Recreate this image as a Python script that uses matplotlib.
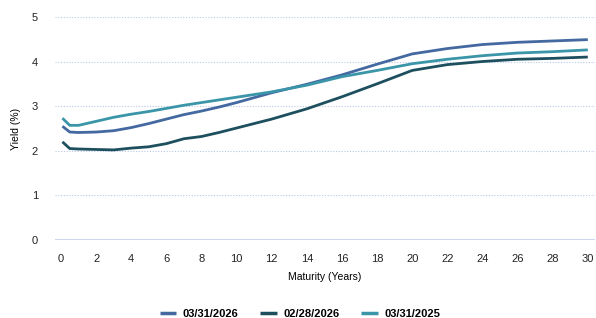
import matplotlib
matplotlib.use('Agg')
import matplotlib.pyplot as plt

plt.rcParams['font.family'] = ['Liberation Sans', 'DejaVu Sans']

maturity = [0.083, 0.5, 1, 2, 3, 4, 5, 6, 7, 8, 9, 10, 12, 14, 16, 18, 20, 22, 24, 26, 28, 30]
yield_mar26 = [2.55, 2.42, 2.41, 2.42, 2.45, 2.52, 2.61, 2.71, 2.81, 2.89, 2.98, 3.08,
               3.30, 3.49, 3.70, 3.94, 4.17, 4.29, 4.38, 4.43, 4.46, 4.49]
yield_feb26 = [2.20, 2.05, 2.04, 2.03, 2.02, 2.06, 2.09, 2.16, 2.27, 2.32, 2.41, 2.51,
               2.71, 2.94, 3.21, 3.50, 3.80, 3.93, 4.00, 4.05, 4.07, 4.10]
yield_mar25 = [2.73, 2.57, 2.57, 2.66, 2.75, 2.82, 2.88, 2.95, 3.02, 3.08, 3.14, 3.20,
               3.32, 3.47, 3.66, 3.80, 3.95, 4.05, 4.13, 4.19, 4.22, 4.26]
labels = ['03/31/2026', '02/28/2026', '03/31/2025']
colors = ['#4369a0', '#1d4f5e', '#3b95a9']

fig = plt.figure(figsize=(5.96, 3.18), dpi=100)
ax = fig.add_axes([0.092, 0.245, 0.906, 0.702])

for ys, lab, c in zip([yield_mar26, yield_feb26, yield_mar25], labels, colors):
    ax.plot(maturity, ys, color=c, lw=2, label=lab, solid_capstyle='butt')

ax.set_xlim(-0.35, 30.4)
ax.set_ylim(0, 5)
ax.set_xticks(range(0, 31, 2))
ax.set_yticks(range(0, 6))
for v in range(1, 6):
    ax.axhline(v, color='#b8c8e6', lw=0.8, ls=(0, (1, 1.5)), zorder=0)
ax.axhline(0, color='#c5d3e8', lw=2, zorder=0)

for s in ax.spines.values():
    s.set_visible(False)
ax.tick_params(length=0, labelsize=8, colors='#222222')
ax.tick_params(axis='y', pad=12)
ax.tick_params(axis='x', pad=10)
ax.set_xlabel('Maturity (Years)', fontsize=7.5, labelpad=6)
ax.set_ylabel('Yield (%)', fontsize=7.5, labelpad=8)

leg = fig.legend(loc='lower center', bbox_to_anchor=(0.503, -0.035), ncol=3, frameon=False,
                 prop={'size': 8, 'weight': 'bold'}, handlelength=1.5, columnspacing=2.0,
                 handletextpad=0.55)
for line in leg.get_lines():
    line.set_linewidth(2.5)

fig.savefig('out.png', dpi=100)
